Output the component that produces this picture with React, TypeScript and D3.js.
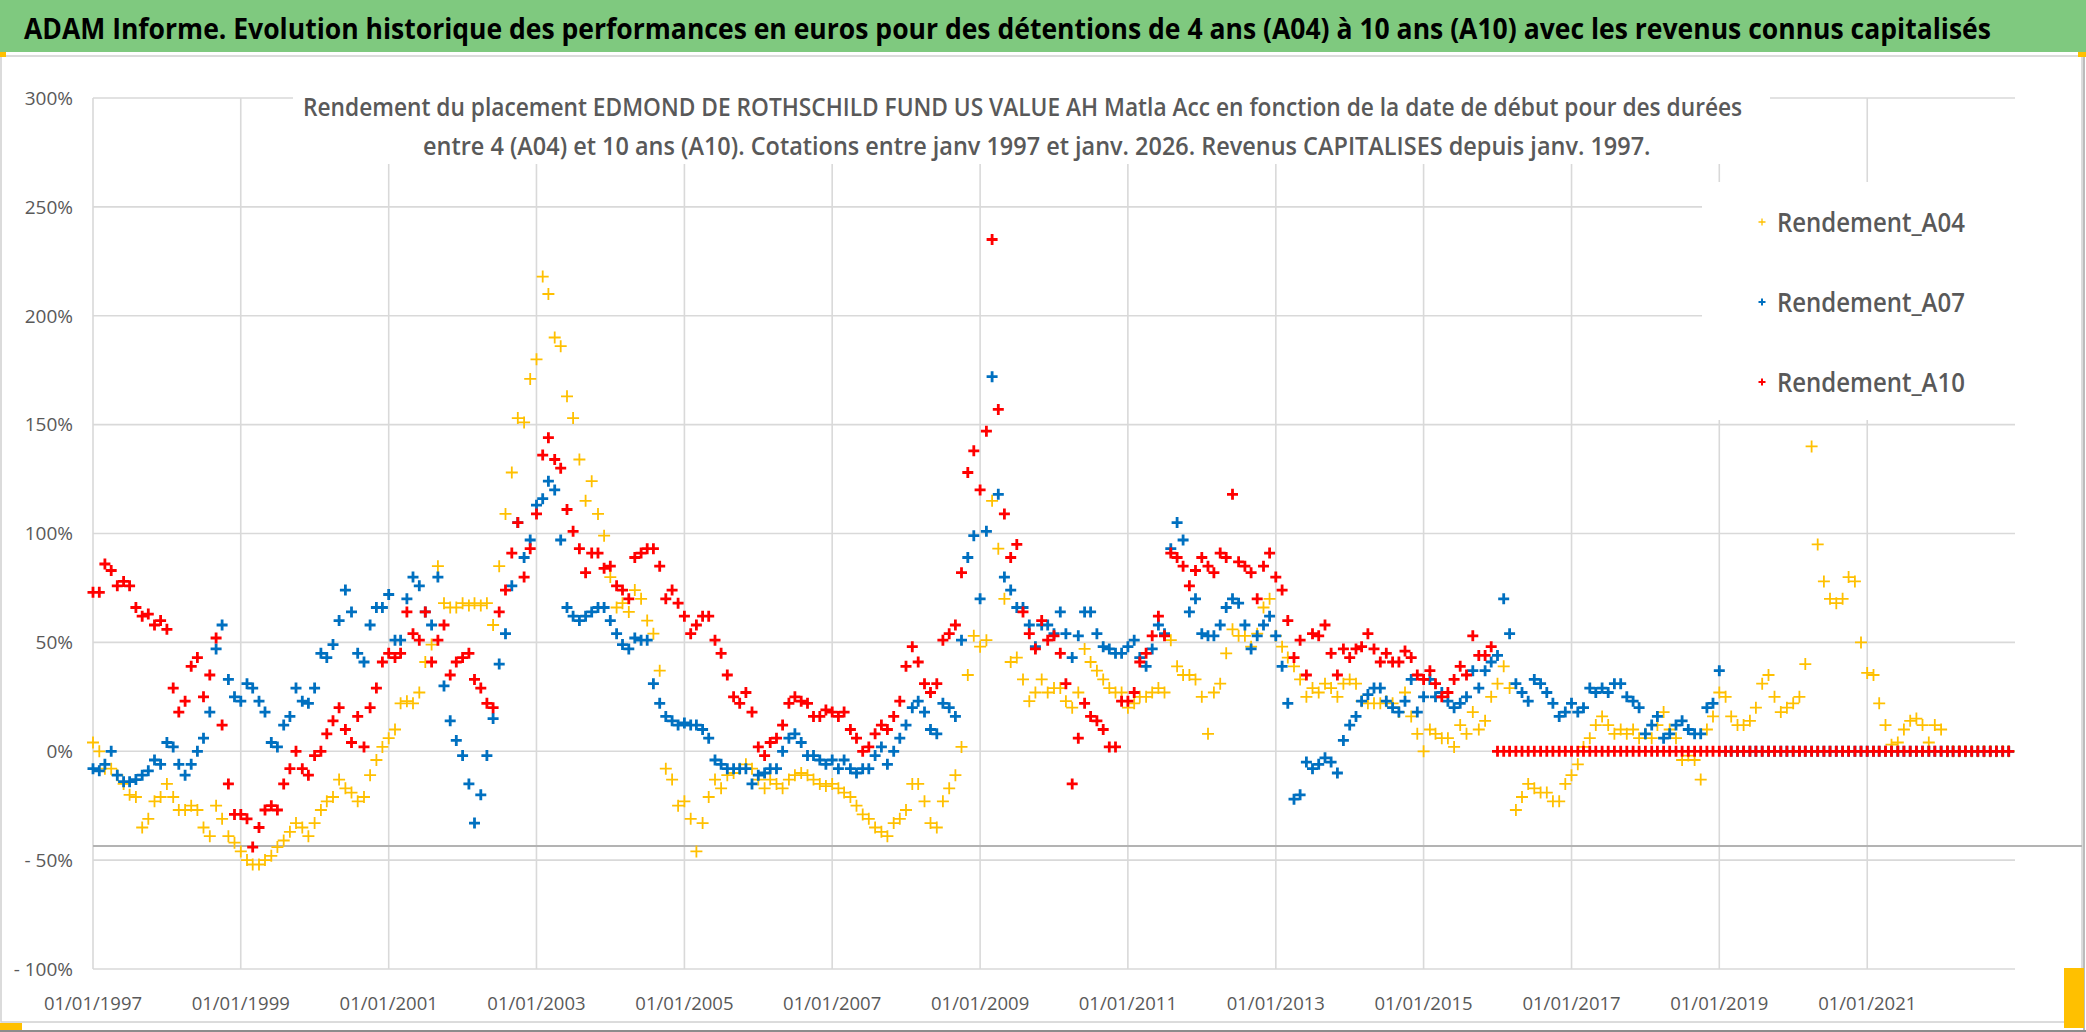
import React, { useLayoutEffect, useRef, useState } from 'react';
import * as d3 from 'd3';

const W = 2086;
const H = 1032;

// one quote per month, Jan 1997 -> Dec 2022
const START = new Date(1997, 0, 1);
const END = new Date(2023, 0, 1);
const months = d3.timeMonth.range(START, END);

// Rendement (%), one value per month
const rendementA04 = [
  4, 0, -8, -8, -11, -15, -20, -21, -35, -31,
  -23, -21, -15, -21, -27, -27, -25, -27, -35, -39,
  -25, -31, -39, -42, -46, -50, -52, -52, -50, -48,
  -44, -41, -37, -33, -35, -39, -33, -27, -23, -21,
  -13, -17, -19, -23, -21, -11, -4, 2, 6, 10,
  22, 23, 22,
  27, 41, 49, 85, 68, 66, 66, 68, 67, 68,
  67, 68, 58, 85, 109, 128, 153, 151, 171, 180,
  218, 210, 190, 186, 163, 153, 134, 115, 124, 109,
  99, 80, 66, 68, 64, 74, 70, 60, 54, 37,
  -8, -13, -25, -23, -31, -46, -33, -21, -13, -17,
  -11, -10,
  -8, -6, -8, -13, -17, -13, -15, -17, -13, -11,
  -10, -11, -13, -15, -16, -15, -17, -19, -21, -25,
  -29, -31, -35, -37, -39, -33, -31, -27, -15, -15,
  -23, -33, -35, -23, -17, -11, 2, 35, 53, 48,
  51, 115, 93, 70, 41, 43, 33, 23, 27, 33,
  27, 29,
  29, 23, 20, 27, 47, 41, 37, 33, 29, 27,
  27, 20, 22, 25, 25, 27, 29, 27, 51, 39,
  35, 35, 33, 25, 8, 27, 31, 45, 56, 53,
  53, 48, 54, 66, 70, 53, 48, 43, 39, 33,
  25, 29, 27, 31, 29, 25, 31, 33, 31, 23,
  22, 22,
  22, 23, 22, 18, 27, 16, 8, 0, 10, 8,
  6, 6, 2, 12, 8, 18, 10, 14, 25, 31,
  39, 29, -27, -21, -15, -17, -19, -19, -23, -23,
  -15, -11, -6, 2, 6, 12, 16, 12, 8, 10,
  8, 10, 6, 8, 6, 12, 18, 10, 6, -4,
  -2, -4,
  -13, 10, 16, 27, 25, 16, 12, 12, 14, 20,
  31, 35, 25, 18, 20, 22, 25, 40, 140, 95,
  78, 70, 68, 70, 80, 78, 50, 36, 35, 22,
  12, 3, 4, 10, 14, 15, 12, 4, 12, 10,
  0, 0, 0, 0, 0, 0, 0, 0, 0, 0, 0,
];

const rendementA07 = [
  -8, -9, -6, 0, -11, -14, -14, -13, -11, -9,
  -4, -6, 4, 2, -6, -11, -6, 0, 6, 18,
  47, 58, 33, 25, 23, 31, 29, 23, 18, 4,
  2, 12, 16, 29, 23, 22, 29, 45, 43, 49,
  60, 74, 64, 45, 41, 58, 66, 66, 72, 51,
  51, 70, 80,
  76, 64, 58, 80, 30, 14, 5, -2, -15, -33,
  -20, -2, 15, 40, 54, 76, 105, 89, 97, 113,
  116, 124, 120, 97, 66, 62, 60, 62, 64, 66,
  66, 60, 54, 49, 47, 52, 51, 51, 31, 22,
  16, 14, 12, 13, 12, 12, 10, 6, -4, -6,
  -8, -8,
  -8, -8, -15, -11, -10, -8, -8, 0, 6, 8,
  4, -2, -2, -4, -6, -4, -8, -4, -8, -10,
  -8, -8, -2, 2, -6, 0, 6, 12, 20, 23,
  18, 10, 8, 22, 20, 16, 51, 89, 99, 70,
  101, 172, 118, 80, 74, 66, 66, 58, 48, 58,
  58, 54,
  64, 54, 43, 53, 64, 64, 54, 48, 47, 45,
  45, 48, 51, 43, 39, 47, 58, 54, 93, 105,
  97, 64, 70, 54, 53, 53, 58, 66, 70, 68,
  58, 47, 53, 58, 62, 53, 39, 22, -22, -20,
  -5, -8, -6, -3, -5, -10, 5, 12, 16, 23,
  26, 29,
  29, 23, 20, 18, 23, 33, 18, 25, 33, 25,
  27, 23, 20, 22, 25, 37, 29, 37, 41, 44,
  70, 54, 31, 27, 23, 33, 31, 27, 22, 16,
  18, 22, 18, 20, 29, 27, 29, 27, 31, 31,
  25, 23, 20, 8, 12, 16, 6, 8, 12, 14,
  10, 8, 8, 20, 22, 37,
  0, 0, 0, 0, 0, 0, 0, 0, 0, 0,
  0, 0, 0, 0, 0, 0, 0, 0, 0, 0,
  0, 0, 0, 0, 0, 0, 0, 0, 0, 0,
  0, 0, 0, 0, 0, 0, 0, 0, 0, 0,
  0, 0, 0, 0, 0, 0, 0,
];

const rendementA10 = [
  73, 73, 86, 83, 76, 78, 76, 66, 62, 63,
  58, 60, 56,
  29, 18, 23, 39, 43, 25, 35, 52, 12, -15,
  -29, -29, -31, -44, -35, -27, -25, -27, -15, -8,
  0, -8, -11, -2, 0, 8, 14, 20, 10, 4,
  16, 2, 20, 29, 41, 45, 43, 45, 64, 54,
  51, 64, 41, 51, 58, 35, 41, 43, 45, 33,
  29, 22, 20, 64, 74, 91, 105, 80, 93, 109,
  136, 144, 134, 130, 111, 101, 93, 82, 91, 91,
  84, 85, 76, 74, 70, 89, 91, 93, 93, 85,
  70, 74, 68, 62, 54, 58, 62, 62, 51, 45,
  35, 25,
  22, 27, 18, 2, -2, 4, 6, 12, 22, 25,
  23, 22, 16, 16, 19, 18, 16, 18, 10, 6,
  0, 2, 8, 12, 10, 16, 23, 39, 48, 41,
  31, 27, 31, 51, 54, 58, 82, 128, 138, 120,
  147, 235, 157, 109, 89, 95, 64, 54, 47, 60,
  51, 53,
  45, 31, -15, 6, 22, 16, 14, 10, 2, 2,
  23, 23, 27, 41, 45, 53, 62, 53, 91, 89,
  85, 76, 83, 89, 85, 82, 91, 89, 118, 87,
  85, 82, 70, 85, 91, 80, 74, 60, 43, 51,
  35, 54, 53, 58, 45, 35, 47, 43, 47, 48,
  54, 47,
  41, 45, 41, 41, 46, 43, 35, 33, 37, 31,
  25, 27, 33, 39, 35, 53, 44, 44, 48,
  0, 0, 0, 0, 0, 0, 0, 0, 0, 0,
  0, 0, 0, 0, 0, 0, 0, 0, 0, 0,
  0, 0, 0, 0, 0, 0, 0, 0, 0, 0,
  0, 0, 0, 0, 0, 0, 0, 0, 0, 0,
  0, 0, 0, 0, 0, 0, 0, 0, 0, 0,
  0, 0, 0, 0, 0, 0, 0, 0, 0, 0,
  0, 0, 0, 0, 0, 0, 0, 0, 0, 0,
  0, 0, 0, 0, 0, 0, 0, 0, 0, 0,
  0, 0, 0, 0,
];

const seriesNames = ['Rendement_A04', 'Rendement_A07', 'Rendement_A10'];
const seriesColors = ['#FFC000', '#0070C0', '#FF0000'];
const seriesValues = [rendementA04, rendementA07, rendementA10];

const yTicks = [300, 250, 200, 150, 100, 50, 0, -50, -100];
const xTickYears = [1997, 1999, 2001, 2003, 2005, 2007, 2009, 2011, 2013, 2015, 2017, 2019, 2021];

const TITLE =
  'ADAM Informe. Evolution historique des performances en euros pour des détentions de 4 ans (A04) à 10 ans (A10) avec les revenus connus capitalisés';
const SUB1 =
  'Rendement du placement EDMOND DE ROTHSCHILD FUND US VALUE AH Matla Acc en fonction de la date de début pour des durées';
const SUB2 =
  'entre 4 (A04) et 10 ans (A10). Cotations entre janv 1997 et janv. 2026. Revenus CAPITALISES depuis janv. 1997.';

const FONT = "'Open Sans', 'Noto Sans', sans-serif";
const GRID = '#d9d9d9';
const TXT = '#595959';

const x = d3.scaleTime().domain([START, END]).range([93, 2015]);
const y = d3.scaleLinear().domain([-100, 300]).range([969, 98]);
const fmtDate = d3.timeFormat('%d/%m/%Y');
const fmtPct = (v: number) => (v < 0 ? `- ${Math.abs(v)}%` : `${v}%`);

function plusPath(pts: [number, number][], s: number) {
  return pts
    .map(([px, py]) => `M${(px - s).toFixed(1)},${py.toFixed(1)}h${2 * s}M${px.toFixed(1)},${(py - s).toFixed(1)}v${2 * s}`)
    .join('');
}

// marker look per series (yellow is thinner in the original)
const markerSize = [6, 5.5, 5.5];
const markerStroke = [1.8, 2.8, 2.8];

// text squeezed horizontally to a given width (the original font is narrower)
function FitText(props: {
  x: number;
  y: number;
  width: number;
  size: number;
  weight?: number;
  fill: string;
  children: string;
}) {
  const ref = useRef<SVGTextElement>(null);
  const [sx, setSx] = useState(1);
  useLayoutEffect(() => {
    if (!ref.current) return;
    const len = ref.current.getComputedTextLength();
    if (len > 0) setSx(props.width / len);
  }, [props.children, props.width, props.size]);
  return (
    <text
      ref={ref}
      transform={`translate(${props.x},${props.y}) scale(${sx},1)`}
      fontFamily={FONT}
      fontSize={props.size}
      fontWeight={props.weight ?? 400}
      fill={props.fill}
    >
      {props.children}
    </text>
  );
}

export default function App() {
  const [x0, x1] = x.range();
  const xTicks = xTickYears.map((yr) => new Date(yr, 0, 1));

  return (
    <svg
      width={W}
      height={H}
      viewBox={`0 0 ${W} ${H}`}
      style={{ position: 'absolute', left: 0, top: 0, display: 'block', background: '#fff' }}
    >
      {/* header band */}
      <rect x={0} y={0} width={W} height={52} fill="#7fc97f" />
      <FitText x={24} y={39} width={1968} size={29} weight={700} fill="#000">
        {TITLE}
      </FitText>

      {/* chart frame */}
      <rect x={1} y={56} width={2081} height={966} fill="#fff" stroke="#d0d0d0" strokeWidth={1.5} />
      <line x1={2084} x2={2084} y1={56} y2={1030} stroke="#a6a6a6" strokeWidth={1.5} />
      <line x1={0} x2={W} y1={1031} y2={1031} stroke="#8c8c8c" strokeWidth={2} />
      <rect x={0} y={52} width={6} height={5} fill="#FFC000" />
      <rect x={2078} y={52} width={8} height={5} fill="#FFC000" />
      <rect x={0} y={1023} width={22} height={7} fill="#FFC000" />
      <rect x={2064} y={968} width={20} height={60} fill="#FFC000" />

      {/* grid */}
      {yTicks.map((t) => (
        <line key={`gy${t}`} x1={x0} x2={x1} y1={y(t)} y2={y(t)} stroke={GRID} strokeWidth={1.6} />
      ))}
      {xTicks.map((d) => (
        <line key={`gx${+d}`} x1={x(d)} x2={x(d)} y1={y(300)} y2={y(-100)} stroke={GRID} strokeWidth={1.6} />
      ))}
      <line x1={x0} x2={2082} y1={y(-43.5)} y2={y(-43.5)} stroke="#b3b3b3" strokeWidth={2} />

      {/* y labels */}
      {yTicks.map((t) => (
        <text
          key={`ly${t}`}
          x={73}
          y={y(t)}
          dy="0.36em"
          textAnchor="end"
          fontFamily={FONT}
          fontSize={19}
          fill={TXT}
        >
          {fmtPct(t)}
        </text>
      ))}

      {/* x labels */}
      {xTicks.map((d) => (
        <text key={`lx${+d}`} x={x(d)} y={1010} textAnchor="middle" fontFamily={FONT} fontSize={18.5} fill={TXT}>
          {fmtDate(d)}
        </text>
      ))}

      {/* markers */}
      {seriesValues.map((vals, i) => {
        const pts = vals.map((v, j) => [x(months[j]), y(v)] as [number, number]);
        return (
          <path
            key={seriesNames[i]}
            d={plusPath(pts, markerSize[i])}
            fill="none"
            stroke={seriesColors[i]}
            strokeWidth={markerStroke[i]}
          />
        );
      })}

      {/* chart title */}
      <rect x={293} y={60} width={1477} height={104} fill="#fff" />
      <FitText x={303} y={116} width={1440} size={25} weight={600} fill={TXT}>
        {SUB1}
      </FitText>
      <FitText x={423} y={155} width={1228} size={25} weight={600} fill={TXT}>
        {SUB2}
      </FitText>

      {/* legend */}
      <rect x={1702} y={182} width={313} height={238} fill="#fff" />
      {seriesNames.map((name, i) => {
        const cy = 222 + i * 80;
        return (
          <g key={name}>
            <path
              d={plusPath([[1762, cy]], 3.5)}
              stroke={seriesColors[i]}
              strokeWidth={i === 0 ? 1.3 : 2}
              fill="none"
            />
            <FitText x={1777} y={cy + 10} width={188} size={27} weight={600} fill={TXT}>
              {name}
            </FitText>
          </g>
        );
      })}
    </svg>
  );
}
